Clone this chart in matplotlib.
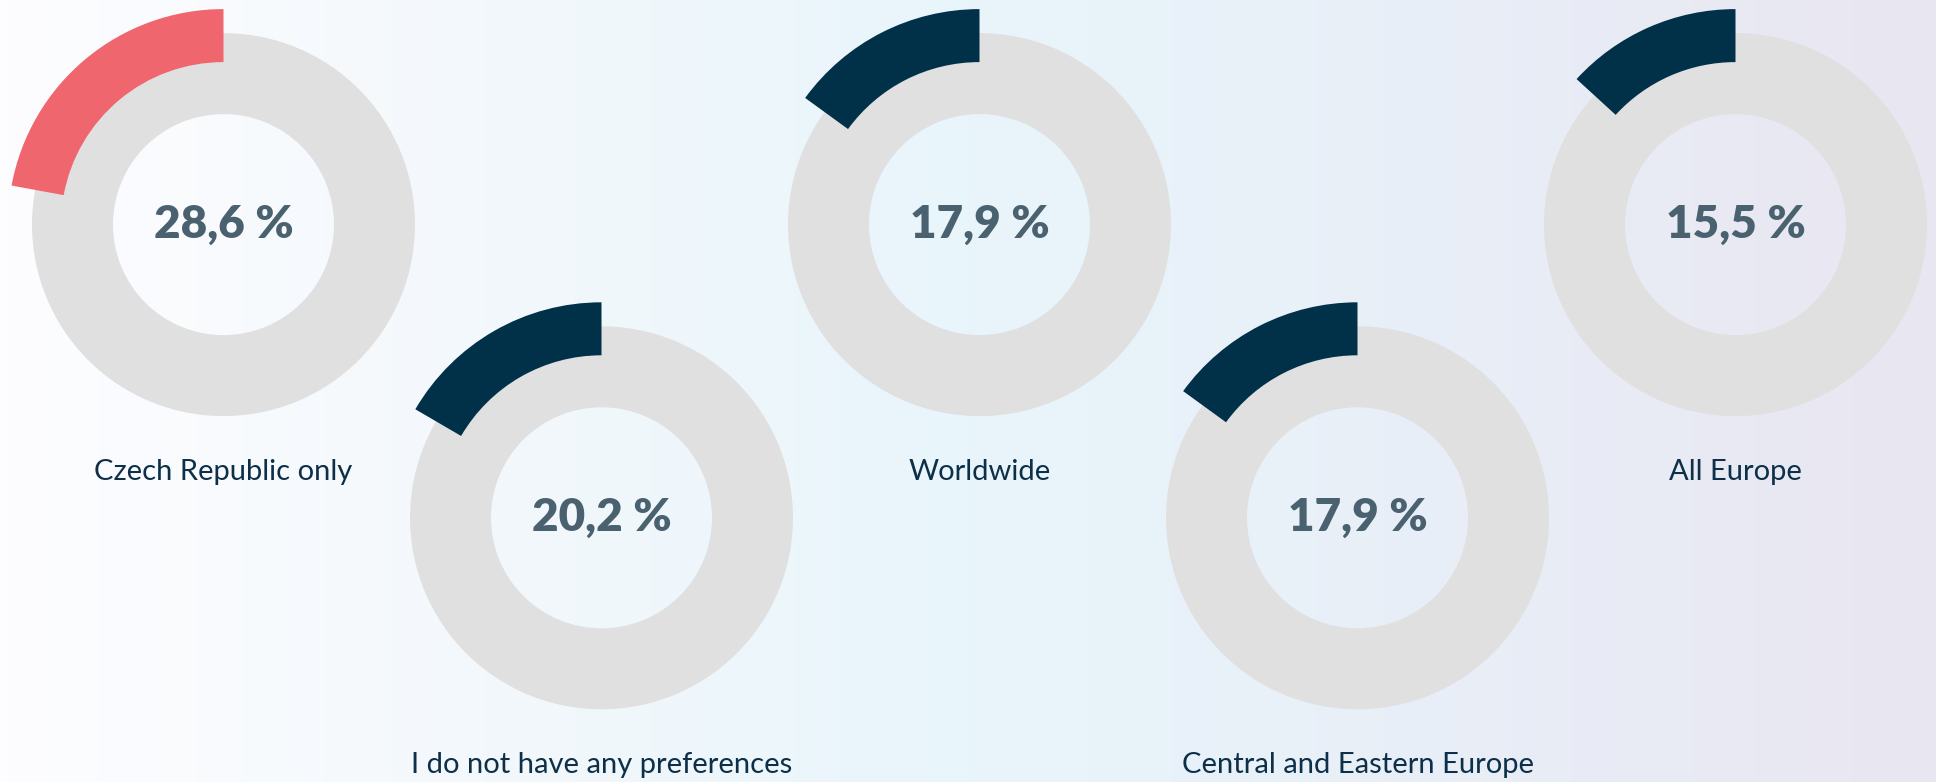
# ---------------------------------------------------------------------
#
# Preferred region - donut gauges
#  - one gauge per answer, staggered in two rows
#
# ---------------------------------------------------------------------

import matplotlib.pyplot as plt
import numpy as np
from matplotlib.colors import LinearSegmentedColormap

labels = ["Czech Republic only", "I do not have any preferences", "Worldwide",
          "Central and Eastern Europe", "All Europe"]
values = [28.6, 20.2, 17.9, 17.9, 15.5]
# share of the circle covered by the coloured arc
arc_share = [0.221, 0.166, 0.150, 0.150, 0.132]
arc_colors = ["#f0666e", "#013049", "#013049", "#013049", "#013049"]

W, H = 1936, 782
fig = plt.figure(figsize=(W / 100, H / 100), dpi=100)
ax = fig.add_axes([0, 0, 1, 1])

# background gradient
bg = LinearSegmentedColormap.from_list("bg", ["#fdfdff", "#f3f8fc", "#e8f5fb", "#e8eef7", "#e8e6f1"])
grad = np.linspace(0, 1, 512).reshape(1, -1)
ax.imshow(grad, cmap=bg, extent=[0, W, 0, H], aspect="auto", zorder=0)

x0 = 223.5
step = 378
row_y = [224.6, 517.8]

for i in range(len(values)):
    cx = x0 + i * step
    cy = H - row_y[i % 2]

    # grey track
    ax.pie([1], colors=["#e0e0e0"], radius=191.5, center=(cx, cy),
           wedgeprops=dict(width=81, linewidth=0), startangle=90)
    # coloured arc, a bit further out than the track
    ax.pie([arc_share[i], 1 - arc_share[i]], colors=[arc_colors[i], "none"],
           radius=215.5, center=(cx, cy), startangle=90, counterclock=True,
           wedgeprops=dict(width=53, linewidth=0))

    txt = f"{values[i]:.1f}".replace(".", ",") + " %"
    ax.text(cx, cy - 13, txt, ha="center", va="baseline", fontsize=33,
            fontweight="heavy", family="Lato", color="#4a6170", zorder=5)
    ax.text(cx, cy - 255.5, labels[i], ha="center", va="baseline", fontsize=21,
            family="Lato", color="#0d3048", zorder=5)

ax.set_xlim(0, W)
ax.set_ylim(0, H)
ax.set_aspect("auto")
ax.axis("off")

fig.savefig("out.png", dpi=100)
